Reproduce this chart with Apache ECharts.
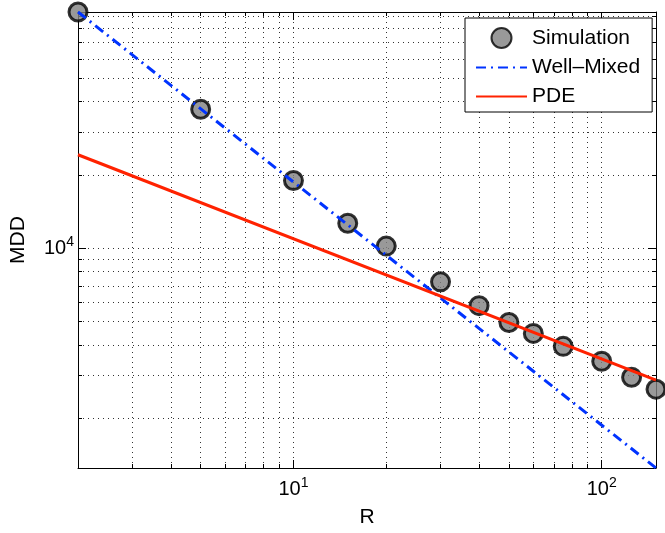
<!DOCTYPE html>
<html>
<head>
<meta charset="utf-8">
<script src="https://cdn.jsdelivr.net/npm/echarts@6/dist/echarts.min.js"></script>
<style>
  html, body { margin: 0; padding: 0; background: #fff; }
  #main { width: 665px; height: 533px; }
</style>
</head>
<body>
<div id="main"></div>
<script>
// data
var simR = [2, 5, 10, 15, 20, 30, 40, 50, 60, 75, 100, 125, 150];
var simMDD = [93500, 37250, 18960, 12650, 10190, 7265, 5800, 4945, 4460, 3945, 3425, 2945, 2630];
var wellR = [2, 150];
var wellMDD = [93500, 1247];
var pdeR = [2, 150];
var pdeMDD = [24200, 2865];

var xMajor = [10, 100];
var xMinor = [3, 4, 5, 6, 7, 8, 9, 20, 30, 40, 50, 60, 70, 80, 90];
var yMajor = [10000];
var yMinor = [2000, 3000, 4000, 5000, 6000, 7000, 8000, 9000,
  20000, 30000, 40000, 50000, 60000, 70000, 80000, 90000];

var font = "'Liberation Sans', Arial, Helvetica, sans-serif";

function pairs(xs, ys) {
  return xs.map(function(x, i) { return [x, ys[i]]; });
}

function powLabel(v) {
  var e = Math.round(Math.log10(v));
  return '{b|10}{s|' + e + '}';
}

var labelRich = {
  b: { fontSize: 20, fontFamily: font, color: '#000' },
  s: { fontSize: 14, fontFamily: font, color: '#000', padding: [0, 0, 12, 0] }
};

var gridDots = { show: true, lineStyle: { color: '#333', width: 1, type: [1, 4] } };

function xAx(pos, ticks, len, main) {
  return {
    type: 'log', logBase: 10, min: 2, max: 150, position: pos,
    axisLine: { show: main, lineStyle: { color: '#000', width: 1 } },
    axisTick: { show: true, inside: true, length: len, customValues: ticks,
      lineStyle: { color: '#000', width: 1 } },
    axisLabel: main && pos === 'bottom'
      ? { show: true, customValues: xMajor, formatter: powLabel, rich: labelRich, margin: 8 }
      : { show: false },
    splitLine: main && pos === 'bottom' ? gridDots : { show: false },
    name: main && pos === 'bottom' ? 'R' : '',
    nameLocation: 'middle', nameGap: 39,
    nameTextStyle: { fontSize: 21, fontFamily: font, color: '#000' }
  };
}

function yAx(pos, ticks, len, main) {
  return {
    type: 'log', logBase: 10, min: 1247, max: 93500, position: pos,
    axisLine: { show: main, lineStyle: { color: '#000', width: 1 } },
    axisTick: { show: true, inside: true, length: len, customValues: ticks,
      lineStyle: { color: '#000', width: 1 } },
    axisLabel: main && pos === 'left'
      ? { show: true, customValues: yMajor, formatter: powLabel, rich: labelRich, margin: 4 }
      : { show: false },
    splitLine: main && pos === 'left' ? gridDots : { show: false },
    name: main && pos === 'left' ? 'MDD' : '',
    nameLocation: 'middle', nameGap: 49,
    nameTextStyle: { fontSize: 21, fontFamily: font, color: '#000' }
  };
}

var allX = xMinor.concat(xMajor);
var allY = yMinor.concat(yMajor);

var myChart = echarts.init(document.getElementById('main'));

myChart.setOption({
  animation: false,
  backgroundColor: '#fff',
  grid: { left: 74, right: 9, top: 12, bottom: 61, containLabel: false },
  xAxis: [
    xAx('bottom', allX, 4, true),
    xAx('bottom', xMajor, 8, false),
    xAx('top', allX, 4, true),
    xAx('top', xMajor, 8, false)
  ],
  yAxis: [
    yAx('left', allY, 4, true),
    yAx('left', yMajor, 8, false),
    yAx('right', allY, 4, true),
    yAx('right', yMajor, 8, false)
  ],
  legend: {
    left: 465, top: 18, orient: 'vertical',
    padding: [9, 12, 5, 10], itemGap: 8,
    itemWidth: 51, itemHeight: 20,
    backgroundColor: '#fff', borderColor: '#000', borderWidth: 1, borderRadius: 0,
    textStyle: { fontSize: 21, fontFamily: font, color: '#000' },
    data: [
      'Simulation',
      // line entries: hide the marker drawn on the legend line
      { name: 'Well–Mixed', itemStyle: { opacity: 0 } },
      { name: 'PDE', itemStyle: { opacity: 0 } }
    ]
  },
  series: [
    {
      name: 'Simulation', type: 'scatter', z: 2, clip: false,
      symbol: 'circle', symbolSize: 18,
      itemStyle: { color: '#808080', borderColor: '#000', borderWidth: 3 },
      data: pairs(simR, simMDD)
    },
    {
      name: 'Well–Mixed', type: 'line', z: 3, symbol: 'none',
      lineStyle: { color: '#0033ff', width: 3, type: [10, 5, 2, 5] },
      itemStyle: { color: '#0033ff' },
      data: pairs(wellR, wellMDD)
    },
    {
      name: 'PDE', type: 'line', z: 3, symbol: 'none',
      lineStyle: { color: '#ff2200', width: 3 },
      itemStyle: { color: '#ff2200' },
      data: pairs(pdeR, pdeMDD)
    }
  ]
});
</script>
</body>
</html>
